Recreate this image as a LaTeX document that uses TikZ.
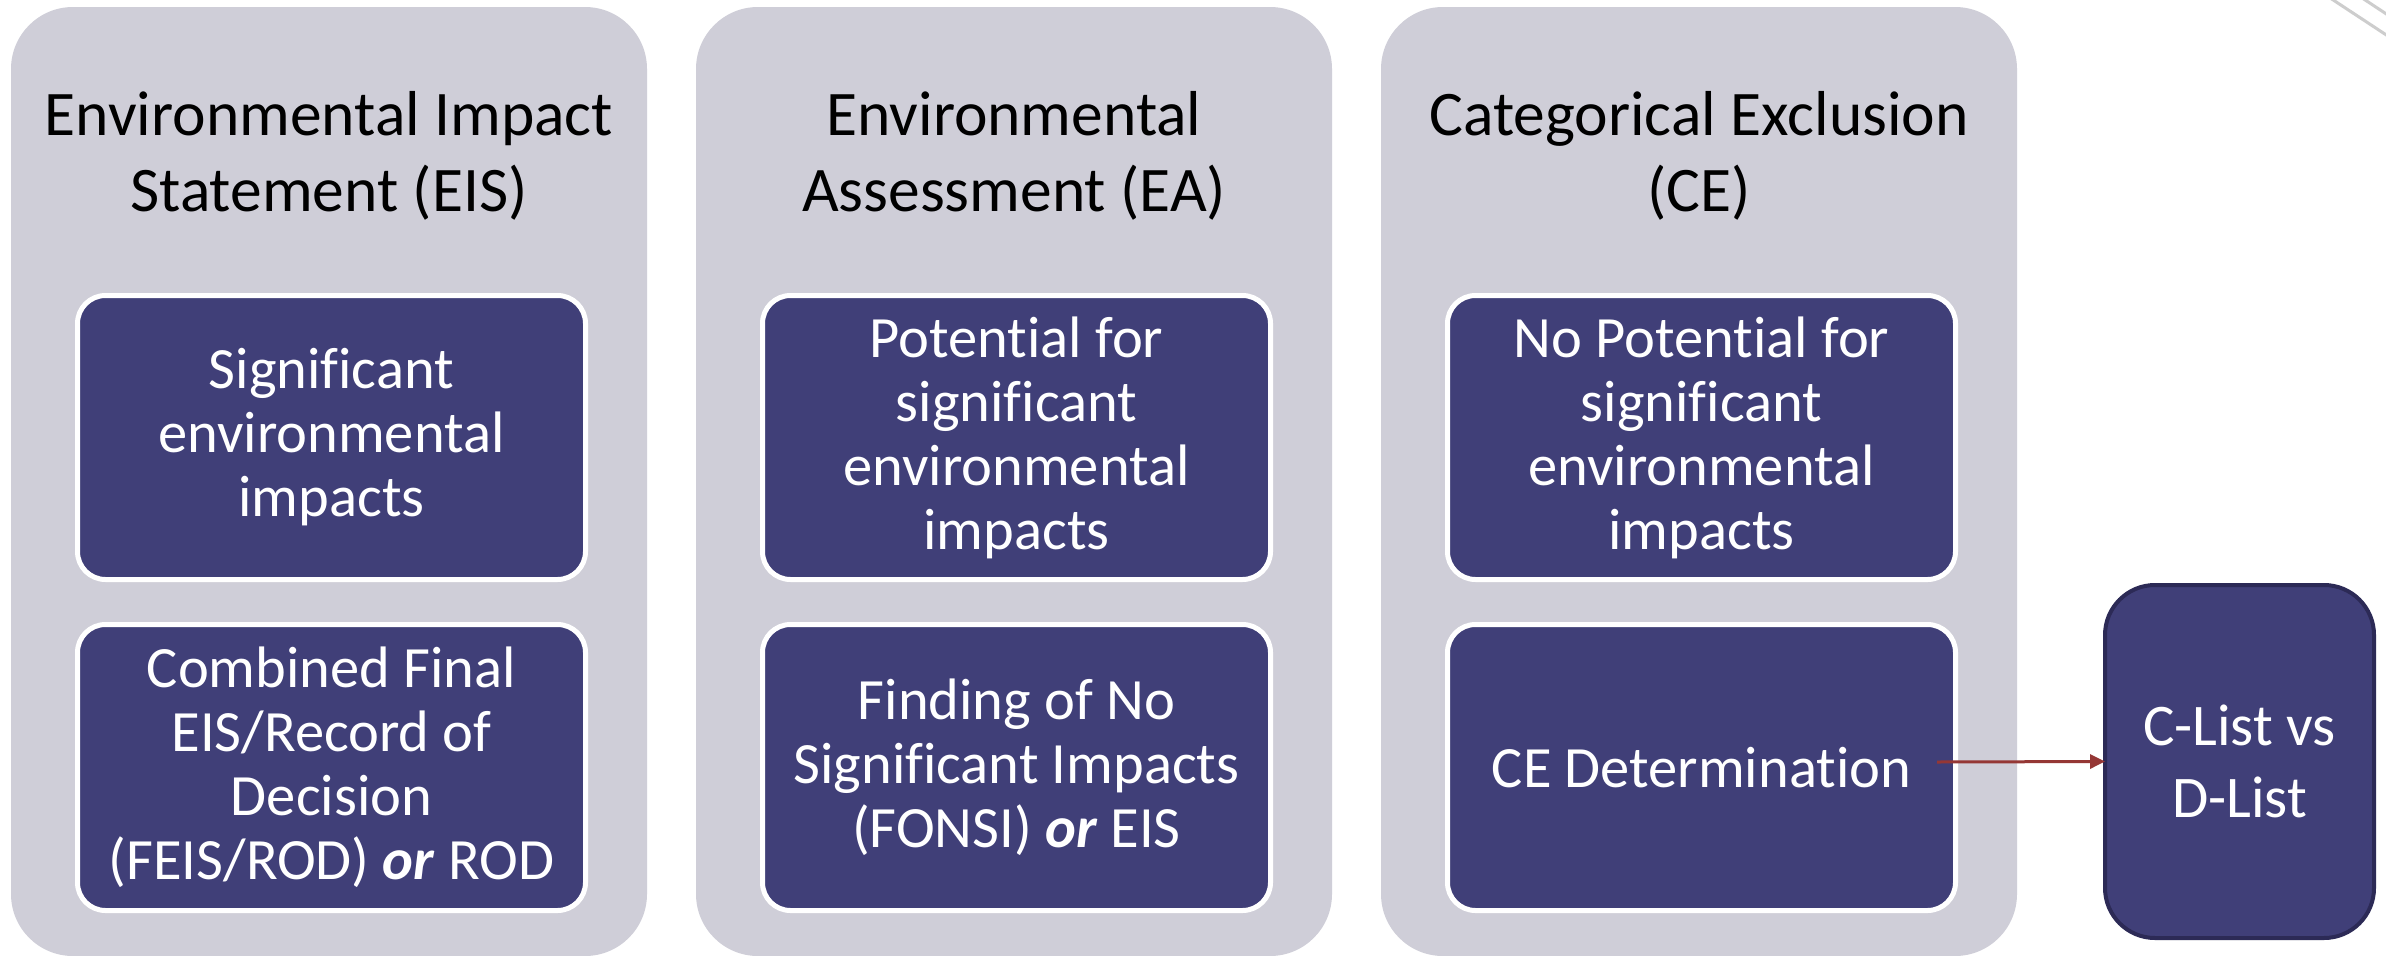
\documentclass[tikz,border=0pt]{standalone}
\usepackage{fontspec}
\setmainfont{Carlito}[Ligatures=NoCommon]
\usetikzlibrary{arrows.meta}
\definecolor{panelgray}{RGB}{207,206,216}
\definecolor{boxblue}{RGB}{64,63,120}
\definecolor{boxedge}{RGB}{44,42,86}
\definecolor{arrowred}{RGB}{149,55,53}
\definecolor{decogray}{RGB}{205,205,205}
\tikzset{
  panel/.style={rectangle, rounded corners=62pt, fill=panelgray, draw=none,
    minimum width=636pt, minimum height=949pt, inner sep=0pt, outer sep=0pt},
  paneltitle/.style={align=center, text=black, font=\fontsize{63.5}{76}\selectfont, inner sep=0pt},
  innerbox/.style={rectangle, rounded corners=28pt, fill=boxblue, draw=white, line width=5pt,
    minimum width=508pt, text=white, align=center, inner sep=0pt, outer sep=0pt,
    font=\fontsize{58.5}{64}\selectfont},
  sidebox/.style={rectangle, rounded corners=50pt, fill=boxblue, draw=boxedge, line width=4pt,
    minimum width=269pt, minimum height=353pt, text=white, align=center, inner sep=0pt, outer sep=0pt,
    font=\fontsize{59}{72}\selectfont},
  link/.style={draw=arrowred, line width=3pt, -{Triangle[length=15pt,width=14pt]}}
}
\begin{document}
\begin{tikzpicture}[x=1pt,y=-1pt]
\useasboundingbox (0,0) rectangle (2386,956);
\fill[white] (0,0) rectangle (2386,956);
\begin{scope}
\clip (0,0) rectangle (2386,956);
% decorative corner lines
\draw[decogray, line width=3pt] (2318,-10) -- (2400,44);
\draw[decogray, line width=3pt] (2350,-10) -- (2400,23);
% panels
\node[panel] (p1) at (329,481.5) {};
\node[panel] (p2) at (1014,481.5) {};
\node[panel] (p3) at (1699,481.5) {};
\end{scope}
% titles
\node[paneltitle] (t1) at (329,156) {Environmental Impact\\Statement (EIS)};
\node[paneltitle] (t2) at (1014,156) {Environmental\\Assessment (EA)};
\node[paneltitle] (t3) at (1699,156) {Categorical Exclusion\\(CE)};
% upper boxes
\node[innerbox, minimum height=284pt] (b11) at (331.5,437.5) {Significant\\environmental\\impacts};
\node[innerbox, minimum height=284pt] (b21) at (1016.5,437.5) {Potential for\\significant\\environmental\\impacts};
\node[innerbox, minimum height=284pt] (b31) at (1701.5,437.5) {No Potential for\\significant\\environmental\\impacts};
% lower boxes
\node[innerbox, minimum height=286pt] (b12) at (331.5,767.5) {Combined Final\\EIS/Record of\\Decision\\(FEIS/ROD) \textbf{\textit{or}} ROD};
\node[innerbox, minimum height=286pt] (b22) at (1016.5,767.5) {Finding of No\\Significant Impacts\\(FONSI) \textbf{\textit{or}} EIS};
\node[innerbox, minimum height=286pt] (b32) at (1701.5,767.5) {CE Determination};
% side box
\node[sidebox] (clist) at (2239.5,761.5) {C-List vs\\D-List};
% arrow
\coordinate (a0) at (1937,762);
\draw[link] (a0) -- (clist.west);
\end{tikzpicture}
\end{document}
